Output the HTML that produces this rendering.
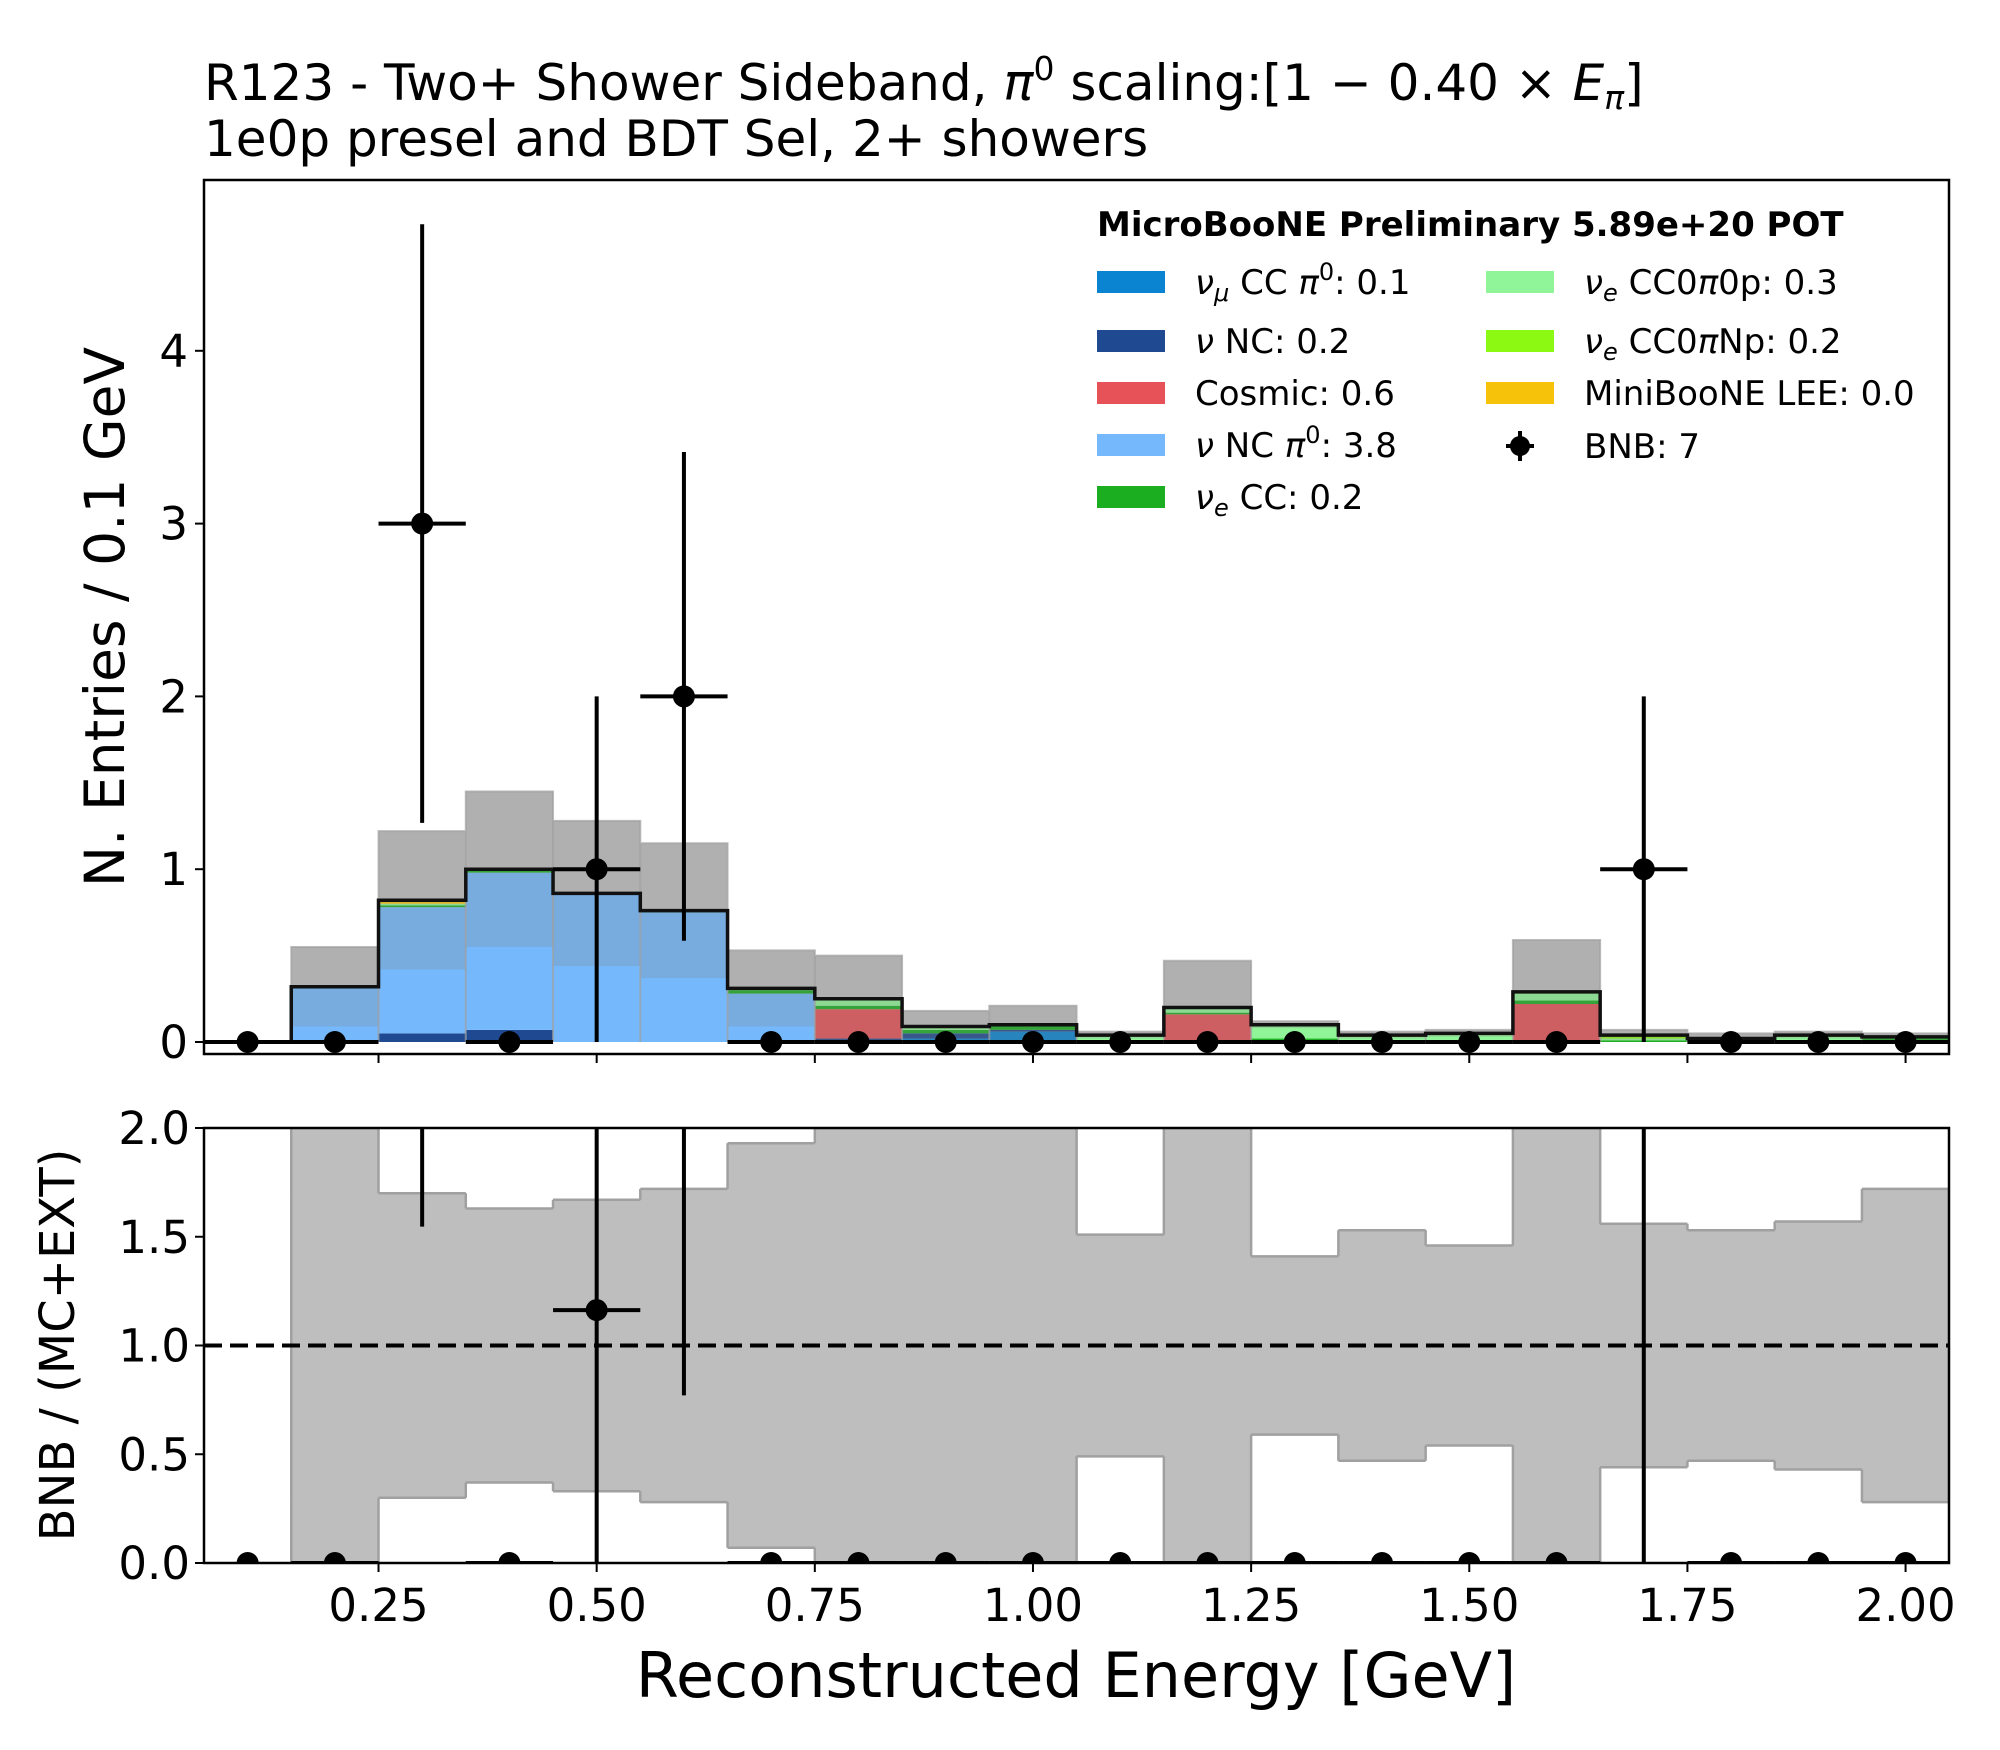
<!DOCTYPE html>
<html><head><meta charset="utf-8"><style>
html,body{margin:0;padding:0;background:#fff}
svg{display:block;font-family:"DejaVu Sans","Liberation Sans",sans-serif}
</style></head><body>
<svg id="chart" width="2000" height="1750" viewBox="0 0 2000 1750" xmlns="http://www.w3.org/2000/svg">
<g id="topPanel"></g>
<g id="botPanel"></g>
<text x="204" y="100" font-size="50">R123 - Two+ Shower Sideband, <tspan font-style="italic">π</tspan><tspan font-size="33" dy="-20">0</tspan><tspan dy="20"> scaling:[1 − 0.40 × </tspan><tspan font-style="italic">E</tspan><tspan font-style="italic" font-size="33" dy="9">π</tspan><tspan dy="-9">]</tspan></text>
<text x="204" y="156" font-size="50">1e0p presel and BDT Sel, 2+ showers</text>
<text x="1076" y="1697" font-size="62" text-anchor="middle">Reconstructed Energy [GeV]</text>
<text transform="translate(124,617) rotate(-90)" font-size="55" text-anchor="middle">N. Entries / 0.1 GeV</text>
<text transform="translate(74,1345) rotate(-90)" font-size="48" text-anchor="middle">BNB / (MC+EXT)</text>
<g id="legend"></g>
</svg>
<script>
const binCenters=[0.1,0.2,0.3,0.4,0.5,0.6,0.7,0.8,0.9,1.0,1.1,1.2,1.3,1.4,1.5,1.6,1.7,1.8,1.9,2.0];
const numuCCpi0=[0,0,0,0,0,0,0,0,0.02,0.06,0,0,0,0,0,0,0,0,0,0];
const nuNC=[0,0,0.05,0.07,0,0,0,0.02,0.03,0.01,0,0,0,0,0,0,0,0,0,0.01];
const cosmic=[0,0,0,0,0,0,0,0.17,0,0,0,0.16,0,0,0,0.22,0,0,0,0];
const ncpi0=[0,0.32,0.73,0.91,0.86,0.75,0.28,0,0,0,0,0,0,0,0,0,0,0,0,0];
const nueCC=[0,0,0.01,0.01,0,0.01,0.02,0.02,0.02,0.02,0.01,0.01,0.02,0.01,0.01,0.02,0.01,0.01,0.01,0.01];
const cc0p=[0,0,0.01,0.01,0,0,0.01,0.03,0.01,0.01,0.03,0.03,0.07,0.02,0.03,0.04,0.01,0.01,0.02,0.01];
const ccNp=[0,0,0,0,0,0,0,0.01,0.01,0,0,0,0.01,0.01,0.01,0.01,0.02,0,0.01,0];
const lee=[0,0,0.02,0,0,0,0,0,0,0,0,0,0,0,0,0,0,0,0,0];
const bandTop=[0,0.55,1.22,1.45,1.28,1.15,0.53,0.50,0.18,0.21,0.06,0.47,0.12,0.06,0.07,0.59,0.07,0.05,0.06,0.05];
const ratioRelErr=[null,1.5,0.70,0.63,0.67,0.72,0.93,1.2,1.2,1.2,0.51,1.2,0.41,0.53,0.46,1.2,0.56,0.53,0.57,0.72];
const dataCounts=[0,0,3,0,1,2,0,0,0,0,0,0,0,0,0,0,1,0,0,0];
const xTicks=[0.25,0.5,0.75,1.0,1.25,1.5,1.75,2.0];
const xTickLabels=["0.25","0.50","0.75","1.00","1.25","1.50","1.75","2.00"];
const yTicks=[0,1,2,3,4];
const rTicks=[0,0.5,1.0,1.5,2.0];
const rTickLabels=["0.0","0.5","1.0","1.5","2.0"];
const seriesArr=[numuCCpi0,nuNC,cosmic,ncpi0,nueCC,cc0p,ccNp,lee];
const seriesColors=["#0A84D0","#1F4A91","#E65257","#75B9FC","#1AAE20","#90F598","#8CF912","#F7C20A"];
const seriesNames=["numu-cc-pi0","nu-nc","cosmic","nu-nc-pi0","nue-cc","nue-cc0pi0p","nue-cc0piNp","miniboone-lee"];

const NS="http://www.w3.org/2000/svg";
const L=204,R=1949,T1=180,B1=1054,T2=1128,B2=1563;
const X=v=>L+(v-0.05)*872.6;
const Y=v=>1042-v*172.8;
const Yr=v=>B2-v*217.5;
function el(p,tag,a){const e=document.createElementNS(NS,tag);for(const k in a)e.setAttribute(k,a[k]);p.appendChild(e);return e;}
const topP=document.getElementById('topPanel'),botP=document.getElementById('botPanel');

const defs=el(document.getElementById('chart'),'defs',{});
const c1=el(defs,'clipPath',{id:'c1'});el(c1,'rect',{x:L,y:T1,width:R-L,height:B1-T1});
const c2=el(defs,'clipPath',{id:'c2'});el(c2,'rect',{x:L,y:T2,width:R-L,height:B2-T2});
const g1=el(topP,'g',{'clip-path':'url(#c1)'});
const g2=el(botP,'g',{'clip-path':'url(#c2)'});

const totals=binCenters.map((c,i)=>seriesArr.reduce((s,a)=>s+a[i],0));
binCenters.forEach((c,i)=>{
  let base=0;
  seriesArr.forEach((arr,k)=>{
    const v=arr[i]; if(v<=0)return;
    const r=el(g1,'rect',{x:X(c-0.05),y:Y(base+v),width:X(c+0.05)-X(c-0.05)+0.5,height:Y(base)-Y(base+v),fill:seriesColors[k]});
    
    
    base+=v;
  });
});
binCenters.forEach((c,i)=>{
  const t=totals[i],tp=bandTop[i]; if(tp<=0)return;
  const err=tp-t, lo=Math.max(0,t-err);
  const x0=X(c-0.05),w=X(c+0.05)-x0;
  const a=el(g1,'rect',{x:x0,y:Y(tp),width:w,height:Y(t)-Y(tp),fill:'#B0B0B0'});
  
  
  const b=el(g1,'rect',{x:x0,y:Y(t),width:w,height:Y(lo)-Y(t),fill:'rgba(131,131,131,0.25)'});
  
  
});
let bp='';binCenters.forEach((c,i)=>{if(bandTop[i]<=0)return;bp+=`M${X(c-0.05)},${Y(0)}V${Y(bandTop[i])}H${X(c+0.05)}V${Y(0)}`;});
el(g1,'path',{d:bp,fill:'none',stroke:'#A0A0A0','stroke-width':2,opacity:0.7});
let sp=`M${X(0.05)},${Y(totals[0])}`;binCenters.forEach((c,i)=>{sp+=`V${Y(totals[i])}H${X(c+0.05)}`;});
const tl=el(g1,'path',{d:sp,fill:'none',stroke:'#111','stroke-width':3.5});


binCenters.forEach((c,i)=>{
  const n=dataCounts[i],e=Math.sqrt(n);
  const g=el(g1,'g',{});
  
  
  el(g,'line',{x1:X(c-0.05),x2:X(c+0.05),y1:Y(n),y2:Y(n),stroke:'#000','stroke-width':4});
  if(n>0)el(g,'line',{x1:X(c),x2:X(c),y1:Y(n-e),y2:Y(n+e),stroke:'#000','stroke-width':4});
  el(g,'circle',{cx:X(c),cy:Y(n),r:11,fill:'#000'});
});
el(topP,'rect',{x:L,y:T1,width:R-L,height:B1-T1,fill:'none',stroke:'#000','stroke-width':2.5});
yTicks.forEach(v=>{
  el(topP,'line',{x1:L-9,x2:L,y1:Y(v),y2:Y(v),stroke:'#000','stroke-width':2});
  const t=el(topP,'text',{x:L-16,y:Y(v)+16,'font-size':45,'text-anchor':'end'});t.textContent=v;
  
  
});
xTicks.forEach(v=>{el(topP,'line',{x1:X(v),x2:X(v),y1:B1,y2:B1+9,stroke:'#000','stroke-width':2});});

binCenters.forEach((c,i)=>{
  const e=ratioRelErr[i]; if(e===null)return;
  const r=el(g2,'rect',{x:X(c-0.05),y:Yr(1+e),width:X(c+0.05)-X(c-0.05)+0.5,height:Yr(1-e)-Yr(1+e),fill:'#BEBEBE'});
  
  
});
let rp='';
binCenters.forEach((c,i)=>{const e=ratioRelErr[i];if(e===null)return;rp+=`M${X(c-0.05)},${Yr(1+e)}H${X(c+0.05)}M${X(c-0.05)},${Yr(1-e)}H${X(c+0.05)}`;
  const pe=i>0?ratioRelErr[i-1]:null; const pv=pe===null?0:pe;
  rp+=`M${X(c-0.05)},${Yr(1+pv)}V${Yr(1+e)}M${X(c-0.05)},${Yr(1-pv)}V${Yr(1-e)}`;});
el(g2,'path',{d:rp,fill:'none',stroke:'#A0A0A0','stroke-width':2.5});
const dl=el(g2,'line',{x1:L,x2:R,y1:Yr(1),y2:Yr(1),stroke:'#000','stroke-width':4,'stroke-dasharray':'18,8'});


binCenters.forEach((c,i)=>{
  const n=dataCounts[i],t=totals[i];
  const r=t>0?n/t:0, re=t>0?Math.sqrt(n)/t:0;
  const g=el(g2,'g',{});
  
  
  if(t>0)el(g,'line',{x1:X(c-0.05),x2:X(c+0.05),y1:Yr(r),y2:Yr(r),stroke:'#000','stroke-width':4});
  if(n>0)el(g,'line',{x1:X(c),x2:X(c),y1:Yr(r-re),y2:Yr(r+re),stroke:'#000','stroke-width':4});
  el(g,'circle',{cx:X(c),cy:Yr(r),r:11,fill:'#000'});
});
el(botP,'rect',{x:L,y:T2,width:R-L,height:B2-T2,fill:'none',stroke:'#000','stroke-width':2.5});
rTicks.forEach((v,i)=>{
  el(botP,'line',{x1:L-9,x2:L,y1:Yr(v),y2:Yr(v),stroke:'#000','stroke-width':2});
  const t=el(botP,'text',{x:L-14,y:Yr(v)+16,'font-size':45,'text-anchor':'end'});t.textContent=rTickLabels[i];
  
  
});
xTicks.forEach((v,i)=>{
  el(botP,'line',{x1:X(v),x2:X(v),y1:B2,y2:B2+9,stroke:'#000','stroke-width':2});
  const t=el(botP,'text',{x:X(v),y:B2+58,'font-size':45,'text-anchor':'middle'});t.textContent=xTickLabels[i];
  
  
});

const lg=document.getElementById('legend');
const hd=el(lg,'text',{x:1097,y:236,'font-size':34,'font-weight':'bold'});hd.textContent='MicroBooNE Preliminary 5.89e+20 POT';


const legItems=[
 [0,1097,282,'<tspan font-style="italic">ν<tspan font-size="24" dy="7">μ</tspan></tspan><tspan dy="-7"> CC </tspan><tspan font-style="italic">π</tspan><tspan font-size="24" dy="-14">0</tspan><tspan dy="14">: 0.1</tspan>'],
 [1,1097,341,'<tspan font-style="italic">ν</tspan> NC: 0.2'],
 [2,1097,393,'Cosmic: 0.6'],
 [3,1097,445,'<tspan font-style="italic">ν</tspan> NC <tspan font-style="italic">π</tspan><tspan font-size="24" dy="-14">0</tspan><tspan dy="14">: 3.8</tspan>'],
 [4,1097,497,'<tspan font-style="italic">ν<tspan font-size="24" dy="7">e</tspan></tspan><tspan dy="-7"> CC: 0.2</tspan>'],
 [5,1486,282,'<tspan font-style="italic">ν<tspan font-size="24" dy="7">e</tspan></tspan><tspan dy="-7"> CC0</tspan><tspan font-style="italic">π</tspan>0p: 0.3'],
 [6,1486,341,'<tspan font-style="italic">ν<tspan font-size="24" dy="7">e</tspan></tspan><tspan dy="-7"> CC0</tspan><tspan font-style="italic">π</tspan>Np: 0.2'],
 [7,1486,393,'MiniBooNE LEE: 0.0']];
legItems.forEach(([k,x,y,html])=>{
  const g=el(lg,'g',{});
  
  
  el(g,'rect',{x:x,y:y-11,width:68,height:22,fill:seriesColors[k]});
  const t=el(g,'text',{x:x+98,y:y+12,'font-size':34});t.innerHTML=html;
});
const bg=el(lg,'g',{});


el(bg,'line',{x1:1520,x2:1520,y1:431,y2:461,stroke:'#000','stroke-width':4});
el(bg,'line',{x1:1506,x2:1534,y1:446,y2:446,stroke:'#000','stroke-width':4});
el(bg,'circle',{cx:1520,cy:446,r:10,fill:'#000'});
const bt=el(bg,'text',{x:1584,y:458,'font-size':34});bt.textContent='BNB: 7';
</script>
</body></html>
